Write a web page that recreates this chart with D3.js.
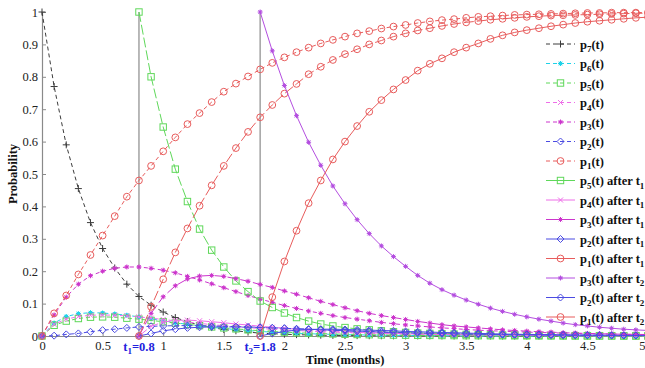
<!DOCTYPE html>
<html>
<head>
<meta charset="utf-8">
<script src="https://cdn.jsdelivr.net/npm/d3@7"></script>
<style>
  body { margin: 0; background: #fff; }
  svg text { font-family: "Liberation Serif", "Tinos", "Times New Roman", serif !important; }
</style>
</head>
<body>
<svg id="chart" width="645" height="368"></svg>
<script>
// ---- time grids (months) ----
const timeFull = [0,0.1,0.2,0.3,0.4,0.5,0.6,0.7,0.8,0.9,1,1.1,1.2,1.3,1.4,1.5,1.6,1.7,1.8,1.9,2,2.1,2.2,2.3,2.4,2.5,2.6,2.7,2.8,2.9,3,3.1,3.2,3.3,3.4,3.5,3.6,3.7,3.8,3.9,4,4.1,4.2,4.3,4.4,4.5,4.6,4.7,4.8,4.9,5];
const timeAfterT1 = [0.8,0.9,1,1.1,1.2,1.3,1.4,1.5,1.6,1.7,1.8,1.9,2,2.1,2.2,2.3,2.4,2.5,2.6,2.7,2.8,2.9,3,3.1,3.2,3.3,3.4,3.5,3.6,3.7,3.8,3.9,4,4.1,4.2,4.3,4.4,4.5,4.6,4.7,4.8,4.9,5];
const timeAfterT2 = [1.8,1.9,2,2.1,2.2,2.3,2.4,2.5,2.6,2.7,2.8,2.9,3,3.1,3.2,3.3,3.4,3.5,3.6,3.7,3.8,3.9,4,4.1,4.2,4.3,4.4,4.5,4.6,4.7,4.8,4.9,5];

// ---- state probabilities starting from state 7 ----
const p7 = [1,0.77,0.59,0.455,0.35,0.27,0.21,0.16,0.122,0.095,0.074,0.057,0.044,0.034,0.026,0.02,0.016,0.012,0.009,0.007,0.0055,0.0042,0.0032,0.0025,0.0019,0.0015,0.0011,0.0009,0.0007,0.0005,0.0004,0.0003,0.0002,0.0002,0.0001,0.0001,0.0001,0.0001,0,0,0,0,0,0,0,0,0,0,0,0,0];
const p6 = [0,0.04,0.06,0.069,0.072,0.071,0.068,0.064,0.059,0.053,0.047,0.041,0.036,0.031,0.027,0.023,0.02,0.017,0.014,0.012,0.01,0.0085,0.007,0.006,0.005,0.0042,0.0035,0.003,0.0025,0.002,0.0017,0.0014,0.0012,0.001,0.0008,0.0007,0.0006,0.0005,0.0004,0.0003,0.0003,0.0002,0.0002,0.0002,0.0001,0.0001,0.0001,0.0001,0.0001,0.0001,0.0001];
const p5 = [0,0.033,0.046,0.054,0.058,0.059,0.058,0.055,0.052,0.048,0.044,0.04,0.036,0.032,0.028,0.025,0.022,0.019,0.016,0.014,0.012,0.01,0.0088,0.0075,0.0064,0.0055,0.0047,0.004,0.0034,0.0029,0.0025,0.0021,0.0018,0.0015,0.0013,0.0011,0.0009,0.0008,0.0007,0.0006,0.0005,0.0004,0.0004,0.0003,0.0003,0.0002,0.0002,0.0002,0.0001,0.0001,0.0001];
const p4 = [0,0.036,0.052,0.06,0.064,0.065,0.064,0.062,0.059,0.055,0.051,0.047,0.043,0.039,0.035,0.032,0.029,0.026,0.023,0.021,0.019,0.017,0.015,0.013,0.012,0.011,0.0095,0.0085,0.0076,0.0068,0.006,0.0054,0.0048,0.0043,0.0038,0.0034,0.003,0.0027,0.0024,0.0021,0.0019,0.0017,0.0015,0.0013,0.0012,0.0011,0.001,0.0009,0.0008,0.0007,0.0006];
const p3 = [0,0.065,0.12,0.16,0.186,0.2,0.209,0.213,0.213,0.209,0.203,0.195,0.184,0.173,0.161,0.149,0.137,0.125,0.114,0.104,0.094,0.085,0.077,0.07,0.063,0.057,0.052,0.047,0.042,0.038,0.034,0.031,0.028,0.025,0.023,0.02,0.018,0.016,0.015,0.013,0.012,0.011,0.01,0.009,0.008,0.007,0.0065,0.006,0.0052,0.0047,0.0042];
const p2 = [0,0.001,0.005,0.008,0.013,0.018,0.021,0.025,0.028,0.03,0.031,0.032,0.032,0.032,0.031,0.03,0.029,0.028,0.027,0.025,0.024,0.022,0.021,0.019,0.018,0.016,0.015,0.014,0.012,0.011,0.01,0.009,0.0085,0.0077,0.007,0.0063,0.0057,0.0051,0.0046,0.0042,0.0038,0.0034,0.0031,0.0028,0.0025,0.0023,0.0021,0.0019,0.0017,0.0015,0.0014];
const p1 = [0,0.07,0.125,0.19,0.25,0.31,0.37,0.43,0.48,0.525,0.57,0.613,0.654,0.688,0.722,0.754,0.779,0.801,0.823,0.843,0.86,0.876,0.89,0.903,0.914,0.924,0.934,0.941,0.949,0.955,0.96,0.966,0.971,0.975,0.978,0.982,0.985,0.987,0.989,0.991,0.992,0.993,0.994,0.995,0.996,0.997,0.997,0.998,0.998,0.998,0.999];

// ---- restart in state 5 at t1 = 0.8 ----
const p5AfterT1 = [1,0.8,0.645,0.515,0.415,0.33,0.265,0.213,0.17,0.137,0.108,0.088,0.071,0.057,0.046,0.037,0.031,0.026,0.022,0.019,0.016,0.013,0.011,0.009,0.008,0.007,0.006,0.005,0.004,0.0035,0.003,0.0025,0.002,0.0017,0.0014,0.0012,0.001,0.0008,0.0007,0.0006,0.0005,0.0004,0.0004];
const p4AfterT1 = [0,0.03,0.043,0.048,0.049,0.047,0.044,0.041,0.037,0.034,0.03,0.027,0.024,0.021,0.019,0.017,0.015,0.013,0.011,0.01,0.009,0.008,0.007,0.006,0.0055,0.005,0.0043,0.0038,0.0033,0.003,0.0026,0.0023,0.002,0.0018,0.0016,0.0014,0.0012,0.0011,0.001,0.0009,0.0008,0.0007,0.0006];
const p3AfterT1 = [0,0.07,0.121,0.155,0.176,0.185,0.187,0.184,0.177,0.169,0.159,0.15,0.139,0.129,0.118,0.107,0.097,0.087,0.078,0.07,0.063,0.057,0.051,0.045,0.04,0.035,0.031,0.028,0.025,0.022,0.019,0.017,0.015,0.013,0.012,0.01,0.009,0.008,0.007,0.006,0.0055,0.005,0.0045];
const p2AfterT1 = [0,0.008,0.016,0.021,0.025,0.027,0.028,0.028,0.028,0.027,0.026,0.025,0.024,0.022,0.021,0.019,0.018,0.016,0.015,0.014,0.012,0.011,0.01,0.009,0.008,0.0075,0.0068,0.006,0.0054,0.0049,0.0044,0.004,0.0036,0.0032,0.0029,0.0026,0.0023,0.0021,0.0019,0.0017,0.0015,0.0014,0.0012];
const p1AfterT1 = [0,0.09,0.175,0.258,0.332,0.402,0.465,0.525,0.58,0.63,0.675,0.713,0.748,0.778,0.808,0.831,0.852,0.87,0.885,0.9,0.912,0.924,0.934,0.943,0.95,0.957,0.963,0.968,0.972,0.976,0.979,0.982,0.985,0.987,0.989,0.99,0.991,0.992,0.993,0.994,0.995,0.996,0.996];

// ---- restart in state 3 at t2 = 1.8 ----
const p3AfterT2 = [1,0.88,0.773,0.68,0.598,0.527,0.463,0.408,0.359,0.316,0.278,0.245,0.215,0.187,0.163,0.143,0.126,0.111,0.098,0.086,0.076,0.067,0.059,0.052,0.046,0.04,0.035,0.031,0.027,0.024,0.021,0.019,0.017];
const p2AfterT2 = [0,0.008,0.014,0.018,0.02,0.021,0.021,0.02,0.019,0.018,0.017,0.016,0.014,0.013,0.012,0.011,0.01,0.009,0.008,0.007,0.006,0.0055,0.005,0.0045,0.004,0.0035,0.003,0.0027,0.0024,0.0021,0.0019,0.0017,0.0015];
const p1AfterT2 = [0,0.12,0.23,0.325,0.41,0.48,0.545,0.6,0.648,0.692,0.728,0.761,0.79,0.819,0.84,0.857,0.876,0.89,0.903,0.917,0.928,0.937,0.944,0.95,0.956,0.961,0.966,0.97,0.973,0.976,0.979,0.982,0.984];

// ---- axes ----
const xTicks = [0,0.5,1,1.5,2,2.5,3,3.5,4,4.5,5];
const yTicks = [0,0.1,0.2,0.3,0.4,0.5,0.6,0.7,0.8,0.9,1];
const switchTimes = [0.8, 1.8];
const switchIndex = ["1", "2"];

// ---- appearance ----
const SERIF = "'Liberation Serif', Tinos, 'Times New Roman', serif";
const colors = {
  p7: "#3c3c3c", p6: "#1ed2e8", p5: "#5fd85a", p4: "#ee6ee8",
  p3: "#cc35cc", p2: "#4b4be2", p1: "#e85c5c", p3b: "#b44ee0"
};
const DASH_ORIG = "4,3";
const DASH_T1 = "10,3";

const series = [
  { t: timeFull, v: p7, color: colors.p7, marker: "plus", dash: DASH_ORIG, state: "7" },
  { t: timeFull, v: p6, color: colors.p6, marker: "dot", dash: DASH_ORIG, state: "6" },
  { t: timeFull, v: p5, color: colors.p5, marker: "square", dash: DASH_ORIG, state: "5" },
  { t: timeFull, v: p4, color: colors.p4, marker: "x", dash: DASH_ORIG, state: "4" },
  { t: timeFull, v: p3, color: colors.p3, marker: "star", dash: DASH_ORIG, state: "3" },
  { t: timeFull, v: p2, color: colors.p2, marker: "diamond", dash: DASH_ORIG, state: "2" },
  { t: timeFull, v: p1, color: colors.p1, marker: "circle", dash: DASH_ORIG, state: "1" },
  { t: timeAfterT1, v: p5AfterT1, color: colors.p5, marker: "square", dash: DASH_T1, state: "5", after: "1" },
  { t: timeAfterT1, v: p4AfterT1, color: colors.p4, marker: "x", dash: DASH_T1, state: "4", after: "1" },
  { t: timeAfterT1, v: p3AfterT1, color: colors.p3, marker: "star", dash: DASH_T1, state: "3", after: "1" },
  { t: timeAfterT1, v: p2AfterT1, color: colors.p2, marker: "diamond", dash: DASH_T1, state: "2", after: "1" },
  { t: timeAfterT1, v: p1AfterT1, color: colors.p1, marker: "circle", dash: DASH_T1, state: "1", after: "1" },
  { t: timeAfterT2, v: p3AfterT2, color: colors.p3b, marker: "star", dash: null, state: "3", after: "2" },
  { t: timeAfterT2, v: p2AfterT2, color: colors.p2, marker: "diamond", dash: null, state: "2", after: "2" },
  { t: timeAfterT2, v: p1AfterT2, color: colors.p1, marker: "circle", dash: null, state: "1", after: "2" }
];

const svg = d3.select("#chart");
const x = d3.scaleLinear().domain([0, 5]).range([42, 648]);
const y = d3.scaleLinear().domain([0, 1]).range([336, 12]);
const axisColor = "#8a8a8a";

// axes
const gx = svg.append("g").attr("transform", `translate(0,${y(0)})`)
  .call(d3.axisBottom(x).tickValues(xTicks).tickSize(-4).tickSizeOuter(0).tickPadding(5).tickFormat(d3.format("")));
const gy = svg.append("g").attr("transform", `translate(${x(0)},0)`)
  .call(d3.axisLeft(y).tickValues(yTicks).tickSize(-4).tickSizeOuter(0).tickPadding(4).tickFormat(d3.format("")));
[gx, gy].forEach(g => {
  g.attr("font-family", null);
  g.select(".domain").attr("stroke", axisColor).attr("stroke-width", 1.2);
  g.selectAll(".tick line").attr("stroke", axisColor);
  g.selectAll(".tick text").attr("fill", "#222").attr("font-size", 12.5).style("font-family", SERIF);
});
// the last x label sits at the window edge: keep it inside
gx.selectAll(".tick text").filter(d => d === 5).attr("text-anchor", "end").attr("x", 645 - x(5));

// switching instants
switchTimes.forEach((ts, i) => {
  svg.append("line")
    .attr("x1", x(ts)).attr("x2", x(ts)).attr("y1", y(0)).attr("y2", y(1))
    .attr("stroke", "#a8a8a8").attr("stroke-width", 1.6);
  const lbl = svg.append("text")
    .attr("x", x(ts)).attr("y", y(0) + 14.5).attr("text-anchor", "middle")
    .style("font-family", SERIF)
    .attr("fill", "#2222dd").attr("font-weight", "bold").attr("font-size", 12.5);
  lbl.append("tspan").text("t");
  lbl.append("tspan").attr("dy", 3.5).attr("font-size", 9).text(switchIndex[i]);
  lbl.append("tspan").attr("dy", -3.5).text("=" + ts);
});

// axis titles
svg.append("text").attr("x", (x(0) + x(5)) / 2).attr("y", 364).attr("text-anchor", "middle")
  .style("font-family", SERIF)
  .attr("font-weight", "bold").attr("font-size", 12.5).attr("fill", "#111").text("Time (months)");
svg.append("text").attr("transform", `translate(17,${(y(0) + y(1)) / 2}) rotate(-90)`)
  .style("font-family", SERIF)
  .attr("text-anchor", "middle").attr("font-weight", "bold").attr("font-size", 12.5)
  .attr("fill", "#111").text("Probability");

// marker glyphs
function drawMarker(g, type, color) {
  switch (type) {
    case "plus":
      g.append("path").attr("d", "M-3.5,0H3.5M0,-3.5V3.5").attr("stroke", color).attr("fill", "none");
      break;
    case "dot":
      g.append("path").attr("d", "M-2.5,0H2.5M0,-2.5V2.5M-1.8,-1.8L1.8,1.8M-1.8,1.8L1.8,-1.8").attr("stroke", color);
      g.append("circle").attr("r", 2).attr("fill", color);
      break;
    case "square":
      g.append("rect").attr("x", -3.2).attr("y", -3.2).attr("width", 6.4).attr("height", 6.4)
        .attr("fill", "none").attr("stroke", color);
      break;
    case "x":
      g.append("path").attr("d", "M-2.5,-2.5L2.5,2.5M-2.5,2.5L2.5,-2.5").attr("stroke", color).attr("fill", "none");
      break;
    case "star":
      g.append("path").attr("d", "M-2.5,0H2.5M0,-2.5V2.5M-1.8,-1.8L1.8,1.8M-1.8,1.8L1.8,-1.8").attr("stroke", color);
      g.append("circle").attr("r", 1.4).attr("fill", color);
      break;
    case "diamond":
      g.append("path").attr("d", "M0,-3.5L3.5,0L0,3.5L-3.5,0Z").attr("fill", "none").attr("stroke", color);
      break;
    case "circle":
      g.append("circle").attr("r", 3.4).attr("fill", "none").attr("stroke", color);
      break;
  }
}

// curves
const plot = svg.append("g");
series.forEach(s => {
  const pts = s.t.map((t, i) => [t, s.v[i]]);
  const line = d3.line().x(d => x(d[0])).y(d => y(d[1]));
  plot.append("path").datum(pts).attr("d", line)
    .attr("fill", "none").attr("stroke", s.color).attr("stroke-width", 1)
    .attr("stroke-dasharray", s.dash);
  pts.forEach(d => {
    const g = plot.append("g").attr("transform", `translate(${x(d[0])},${y(d[1])})`);
    drawMarker(g, s.marker, s.color);
  });
});

// legend
const legend = svg.append("g");
series.forEach((s, i) => {
  const ly = 44 + i * 19.5;
  const g = legend.append("g").attr("transform", `translate(0,${ly})`);
  g.append("line").attr("x1", 546).attr("x2", 575).attr("y1", 0).attr("y2", 0)
    .attr("stroke", s.color).attr("stroke-width", 1)
    .attr("stroke-dasharray", s.after ? null : DASH_ORIG);
  const m = g.append("g").attr("transform", "translate(560.5,0)");
  drawMarker(m, s.marker, s.color);
  const txt = g.append("text").attr("x", 580).attr("y", 4.5)
    .style("font-family", SERIF)
    .attr("font-weight", "bold").attr("font-size", 12.5).attr("fill", "#111");
  txt.append("tspan").text("p");
  txt.append("tspan").attr("dy", 3.5).attr("font-size", 9).text(s.state);
  txt.append("tspan").attr("dy", -3.5).text("(t)" + (s.after ? " after t" : ""));
  if (s.after) txt.append("tspan").attr("dy", 3.5).attr("font-size", 9).text(s.after);
});
</script>
</body>
</html>
